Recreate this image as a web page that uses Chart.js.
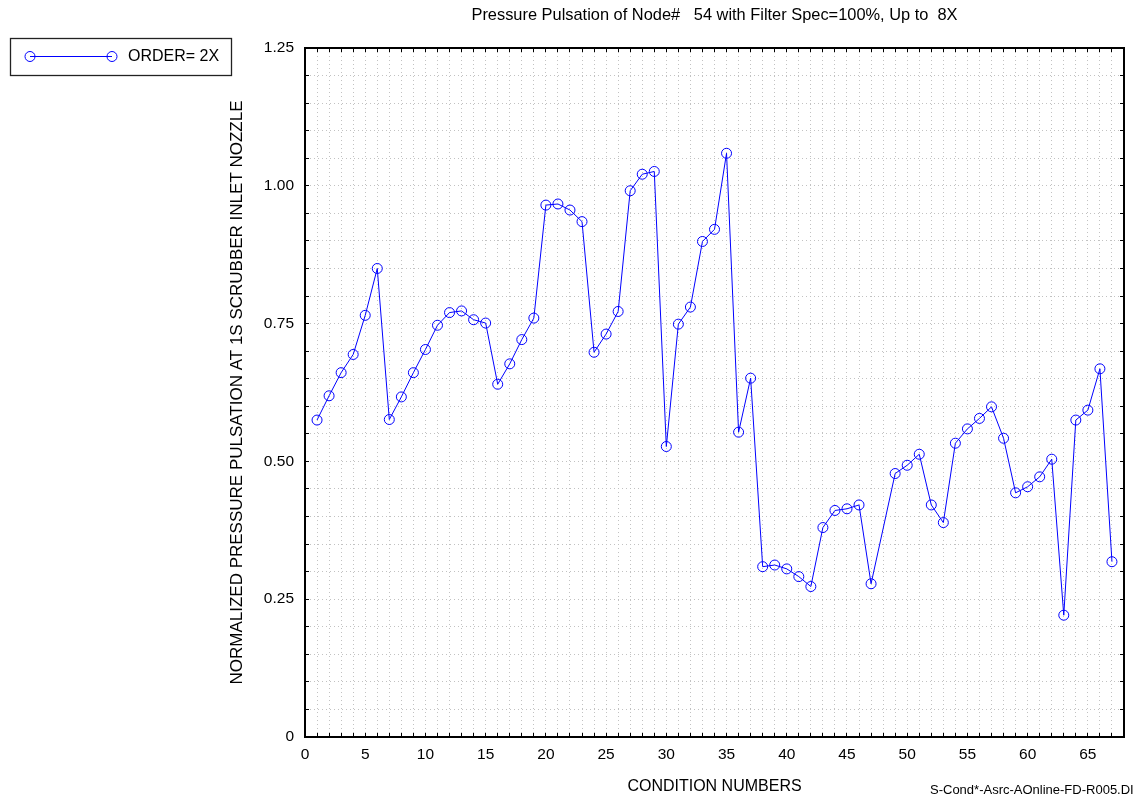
<!DOCTYPE html>
<html>
<head>
<meta charset="utf-8">
<title>Pressure Pulsation of Node# 54</title>
<script src="https://cdn.jsdelivr.net/npm/chart.js@4.4.0/dist/chart.umd.min.js"></script>
<style>
  html, body { margin: 0; padding: 0; background: #fff; }
  #wrap { width: 1136px; height: 801px; position: relative; }
</style>
</head>
<body>
<div id="wrap"><canvas id="pulsationChart" width="1136" height="801"></canvas></div>
<script>
// condition numbers (no run for condition 48)
const conditionNumbers = [
    1, 2, 3, 4, 5, 6, 7, 8, 9, 10, 11, 12, 13, 14, 15, 16, 17, 18, 19, 20,
    21, 22, 23, 24, 25, 26, 27, 28, 29, 30, 31, 32, 33, 34, 35, 36, 37, 38, 39, 40,
    41, 42, 43, 44, 45, 46, 47, 49, 50, 51, 52, 53, 54, 55, 56, 57, 58, 59, 60,
    61, 62, 63, 64, 65, 66, 67
];

// normalized pulsation, 2X order
const order2x = [
    0.575, 0.619, 0.661, 0.694, 0.765, 0.850, 0.576, 0.617, 0.661, 0.703,
    0.747, 0.770, 0.773, 0.757, 0.751, 0.640, 0.677, 0.721, 0.760, 0.965,
    0.967, 0.956, 0.935, 0.698, 0.731, 0.772, 0.991, 1.021, 1.026, 0.527,
    0.749, 0.780, 0.899, 0.921, 1.059, 0.553, 0.651, 0.309, 0.312, 0.305,
    0.291, 0.273, 0.380, 0.411, 0.414, 0.421, 0.278, 0.478, 0.493, 0.513,
    0.421, 0.389, 0.533, 0.559, 0.578, 0.599, 0.542, 0.443, 0.454, 0.472,
    0.504, 0.221, 0.575, 0.593, 0.668, 0.318
];

const seriesLabel = 'ORDER= 2X';
const chartTitle = 'Pressure Pulsation of Node#   54 with Filter Spec=100%, Up to  8X';
const xTitle = 'CONDITION NUMBERS';
const yTitle = 'NORMALIZED PRESSURE PULSATION AT 1S SCRUBBER INLET NOZZLE';
const fileTag = 'S-Cond*-Asrc-AOnline-FD-R005.DI';

const xMin = 0, xMax = 68, xStep = 1, xLabelEvery = 5;
const yMin = 0, yMax = 1.25, yStep = 0.05, yLabelEvery = 0.25;

Chart.defaults.font.family = '"Liberation Sans", Arial, sans-serif';
Chart.defaults.color = '#000';

const gridColor = '#c2c2c2';

// legend box at top left plus the file tag in the bottom right corner
const annotations = {
    id: 'annotations',
    afterDraw(chart) {
        const ctx = chart.ctx;
        const ds = chart.data.datasets[0];
        ctx.save();

        ctx.strokeStyle = '#222';
        ctx.lineWidth = 1.3;
        ctx.strokeRect(10.5, 38.5, 221, 37);

        ctx.strokeStyle = ds.borderColor;
        ctx.lineWidth = 1;
        ctx.beginPath();
        ctx.moveTo(30, 56.5);
        ctx.lineTo(112, 56.5);
        ctx.stroke();
        [30, 112].forEach(cx => {
            ctx.beginPath();
            ctx.arc(cx, 56.5, 5, 0, Math.PI * 2);
            ctx.stroke();
        });

        ctx.fillStyle = '#000';
        ctx.font = '16px "Liberation Sans", Arial, sans-serif';
        ctx.textBaseline = 'middle';
        ctx.textAlign = 'left';
        ctx.fillText(ds.label, 128, 57);

        ctx.font = '13px "Liberation Sans", Arial, sans-serif';
        ctx.fillText(fileTag, 930, 790);
        ctx.restore();
    }
};

const ctx = document.getElementById('pulsationChart').getContext('2d');
new Chart(ctx, {
    type: 'line',
    data: {
        datasets: [{
            label: seriesLabel,
            data: conditionNumbers.map((c, i) => ({ x: c, y: order2x[i] })),
            borderColor: '#0000ff',
            backgroundColor: 'rgba(0,0,0,0)',
            borderWidth: 1,
            pointRadius: 5,
            pointBorderWidth: 1,
            pointBorderColor: '#0000ff',
            pointBackgroundColor: 'rgba(0,0,0,0)',
            tension: 0,
            xAxisID: 'x',
            yAxisID: 'y'
        }]
    },
    options: {
        responsive: false,
        animation: false,
        events: [],
        layout: { padding: 0 },
        plugins: {
            legend: { display: false },
            tooltip: { enabled: false }
        },
        scales: {
            x: {
                type: 'linear',
                position: 'bottom',
                min: xMin,
                max: xMax,
                ticks: {
                    stepSize: xStep,
                    autoSkip: false,
                    maxRotation: 0,
                    padding: 12,
                    font: { size: 15.5 },
                    callback: v => (Math.round(v) % xLabelEvery === 0 ? String(Math.round(v)) : '')
                },
                grid: {
                    color: gridColor,
                    lineWidth: 1,
                    tickColor: '#000',
                    tickLength: -4,
                    tickWidth: 1
                },
                border: { color: '#000', width: 2, dash: [1, 3] },
                title: {
                    display: true,
                    text: xTitle,
                    font: { size: 16 },
                    padding: { top: 0, bottom: 5 }
                },
                afterFit: s => { s.height = 64; }
            },
            xTop: {
                type: 'linear',
                position: 'top',
                min: xMin,
                max: xMax,
                ticks: { stepSize: xStep, autoSkip: false, display: false },
                grid: {
                    drawOnChartArea: false,
                    tickColor: '#000',
                    tickLength: -4,
                    tickWidth: 1
                },
                border: { color: '#000', width: 2 },
                title: {
                    display: true,
                    text: chartTitle,
                    font: { size: 16.4 },
                    padding: { top: 6, bottom: 0 }
                },
                afterFit: s => { s.height = 48; }
            },
            y: {
                type: 'linear',
                position: 'left',
                min: yMin,
                max: yMax,
                ticks: {
                    stepSize: yStep,
                    autoSkip: false,
                    padding: 15,
                    font: { size: 15.5 },
                    callback: v => {
                        const hundredths = Math.round(v * 100);
                        if (hundredths % Math.round(yLabelEvery * 100) !== 0) return '';
                        return hundredths === 0 ? '0' : (hundredths / 100).toFixed(2);
                    }
                },
                grid: {
                    color: gridColor,
                    lineWidth: 1,
                    tickColor: '#000',
                    tickLength: -4,
                    tickWidth: 1
                },
                border: { color: '#000', width: 2, dash: [1, 3] },
                title: {
                    display: true,
                    text: yTitle,
                    font: { size: 17 },
                    padding: { top: 227, bottom: 0 }
                },
                afterFit: s => { s.width = 305; }
            },
            yRight: {
                type: 'linear',
                position: 'right',
                min: yMin,
                max: yMax,
                ticks: { stepSize: yStep, autoSkip: false, display: false },
                grid: {
                    drawOnChartArea: false,
                    tickColor: '#000',
                    tickLength: -4,
                    tickWidth: 1
                },
                border: { color: '#000', width: 2 },
                afterFit: s => { s.width = 11; }
            }
        }
    },
    plugins: [annotations]
});
</script>
</body>
</html>
